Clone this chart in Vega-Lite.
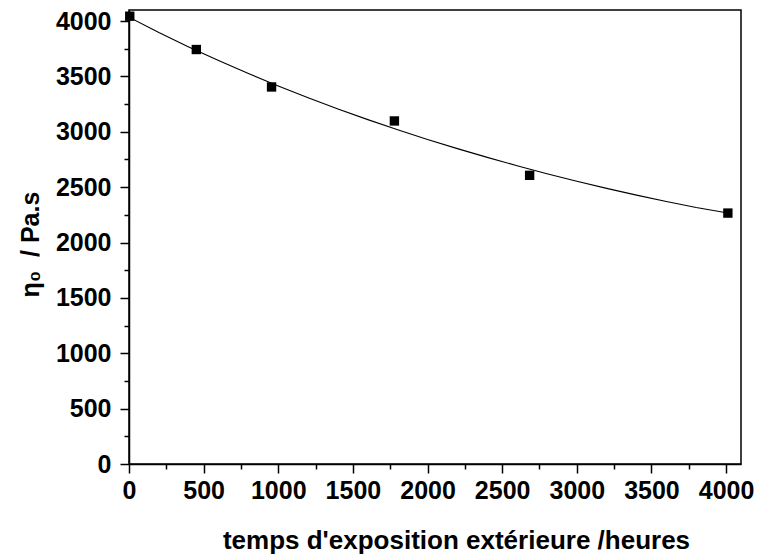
{
  "$schema": "https://vega.github.io/schema/vega-lite/v6.json",
  "width": 612,
  "height": 454,
  "autosize": {"type": "none"},
  "padding": {"left": 129, "top": 10, "right": 18, "bottom": 92},
  "background": "white",
  "config": {
    "view": {"stroke": "black", "strokeWidth": 1.5},
    "axis": {
      "labelFont": "Liberation Sans",
      "labelFontWeight": "bold",
      "labelFontSize": 25,
      "labelColor": "black",
      "titleFont": "Liberation Sans",
      "titleFontWeight": "bold",
      "titleColor": "black",
      "domainColor": "black",
      "domainWidth": 1.5,
      "tickColor": "black",
      "tickWidth": 1.5,
      "grid": false
    }
  },
  "datasets": {
    "pts": [
      {"t": 5, "eta": 4044},
      {"t": 451, "eta": 3743},
      {"t": 955, "eta": 3405},
      {"t": 1778, "eta": 3098},
      {"t": 2684, "eta": 2607},
      {"t": 4012, "eta": 2266}
    ],
    "fit": [
      {"t": 0, "eta": 4035},
      {"t": 200, "eta": 3896},
      {"t": 400, "eta": 3766},
      {"t": 600, "eta": 3643},
      {"t": 800, "eta": 3526},
      {"t": 1000, "eta": 3414},
      {"t": 1200, "eta": 3308},
      {"t": 1400, "eta": 3206},
      {"t": 1600, "eta": 3110},
      {"t": 1800, "eta": 3019},
      {"t": 2000, "eta": 2931},
      {"t": 2200, "eta": 2848},
      {"t": 2400, "eta": 2769},
      {"t": 2600, "eta": 2694},
      {"t": 2800, "eta": 2622},
      {"t": 3000, "eta": 2554},
      {"t": 3200, "eta": 2489},
      {"t": 3400, "eta": 2428},
      {"t": 3600, "eta": 2370},
      {"t": 3800, "eta": 2316},
      {"t": 4012, "eta": 2266}
    ]
  },
  "encoding": {
    "x": {
      "field": "t",
      "type": "quantitative",
      "scale": {"domain": [0, 4100], "nice": false, "zero": false},
      "axis": {
        "title": "temps d'exposition extérieure /heures",
        "titleFontSize": 26,
        "titleX": 327,
        "titleY": 84,
        "titleAlign": "center",
        "titleBaseline": "alphabetic",
        "values": [0, 250, 500, 750, 1000, 1250, 1500, 1750, 2000, 2250, 2500, 2750, 3000, 3250, 3500, 3750, 4000],
        "labelExpr": "datum.value % 500 == 0 ? datum.label : ''",
        "format": "d",
        "tickSize": {"condition": {"test": "datum.value % 500 == 0", "value": 9}, "value": 5},
        "labelPadding": 5,
        "labelFlush": false,
        "labelOverlap": false
      }
    },
    "y": {
      "field": "eta",
      "type": "quantitative",
      "scale": {"domain": [0, 4100], "nice": false, "zero": false},
      "axis": {
        "title": "η₀\u00a0\u00a0/ Pa.s",
        "titleFontSize": 25,
        "titleX": -99,
        "titleY": 234,
        "titleAlign": "center",
        "titleBaseline": "middle",
        "titleAngle": -90,
        "values": [0, 250, 500, 750, 1000, 1250, 1500, 1750, 2000, 2250, 2500, 2750, 3000, 3250, 3500, 3750, 4000],
        "labelExpr": "datum.value % 500 == 0 ? datum.label : ''",
        "format": "d",
        "tickSize": {"condition": {"test": "datum.value % 500 == 0", "value": 9}, "value": 5},
        "labelPadding": 9,
        "labelFlush": false,
        "labelOverlap": false
      }
    }
  },
  "layer": [
    {
      "data": {"name": "fit"},
      "mark": {"type": "line", "color": "black", "strokeWidth": 1.1, "clip": true}
    },
    {
      "data": {"name": "pts"},
      "mark": {"type": "point", "shape": "square", "filled": true, "color": "black", "opacity": 1, "size": 88, "clip": false}
    }
  ]
}
